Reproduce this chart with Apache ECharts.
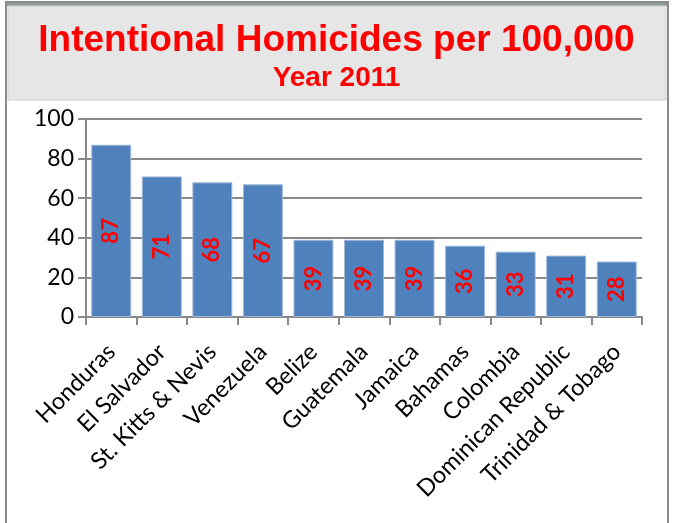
<!DOCTYPE html>
<html><head><meta charset="utf-8">
<script src="https://cdn.jsdelivr.net/npm/echarts@6/dist/echarts.min.js"></script>
<style>html,body{margin:0;padding:0;background:#fff}#c{width:673px;height:523px}</style>
</head><body><div id="c"></div>
<script>
const categories = ["Honduras","El Salvador","St. Kitts & Nevis","Venezuela","Belize","Guatemala","Jamaica","Bahamas","Colombia","Dominican Republic","Trinidad & Tobago"];
const values = [87,71,68,67,39,39,39,36,33,31,28];
const titleText = "Intentional Homicides per 100,000";
const subText = "Year 2011";

const chart = echarts.init(document.getElementById('c'), null, {renderer:'canvas'});
chart.setOption({
  animation:false,
  backgroundColor:'#fff',
  graphic:[
    {type:'rect', shape:{x:6,y:2,width:662,height:600}, style:{fill:'none', stroke:'#8a8a8a', lineWidth:2}, z:-10},
    {type:'rect', shape:{x:7,y:3,width:660,height:3}, style:{fill:'#8f9a9a'}, z:-9},
    {type:'rect', shape:{x:8,y:6,width:658,height:94}, style:{fill:'#e6e6e6', stroke:'#d0d0d0', lineWidth:1}, z:-9}
  ],
  title:{
    text:titleText, subtext:subText, left:'center', top:17, itemGap:5,
    textStyle:{color:'#ff0000', fontFamily:'Liberation Sans, Arial', fontWeight:'bold', fontSize:37},
    subtextStyle:{color:'#ff0000', fontFamily:'Liberation Sans, Arial', fontWeight:'bold', fontSize:28}
  },
  grid:{left:86, right:31, top:119, bottom:206},
  xAxis:{
    type:'category', data:categories,
    axisLine:{lineStyle:{color:'#888', width:2}},
    axisTick:{show:true, length:8, lineStyle:{color:'#888', width:2}},
    axisLabel:{interval:0, rotate:45, color:'#000', fontFamily:'Lato, Open Sans', fontSize:23.5, margin:31}
  },
  yAxis:{
    type:'value', min:0, max:100, interval:20,
    axisLine:{show:true, lineStyle:{color:'#888', width:2}},
    axisTick:{show:true, length:8, lineStyle:{color:'#888', width:2}},
    splitLine:{lineStyle:{color:'#888', width:2}},
    axisLabel:{color:'#000', fontFamily:'Lato, Open Sans', fontSize:23, margin:12}
  },
  series:[{
    type:'bar', data:values, barCategoryGap:'21%',
    itemStyle:{color:'#4f81bd', borderColor:'#9db6da', borderWidth:1},
    label:{show:true, position:'inside', rotate:90, color:'#ff0000', fontWeight:'bold', fontFamily:'Lato, Open Sans', fontSize:22}
  }]
});
</script></body></html>
